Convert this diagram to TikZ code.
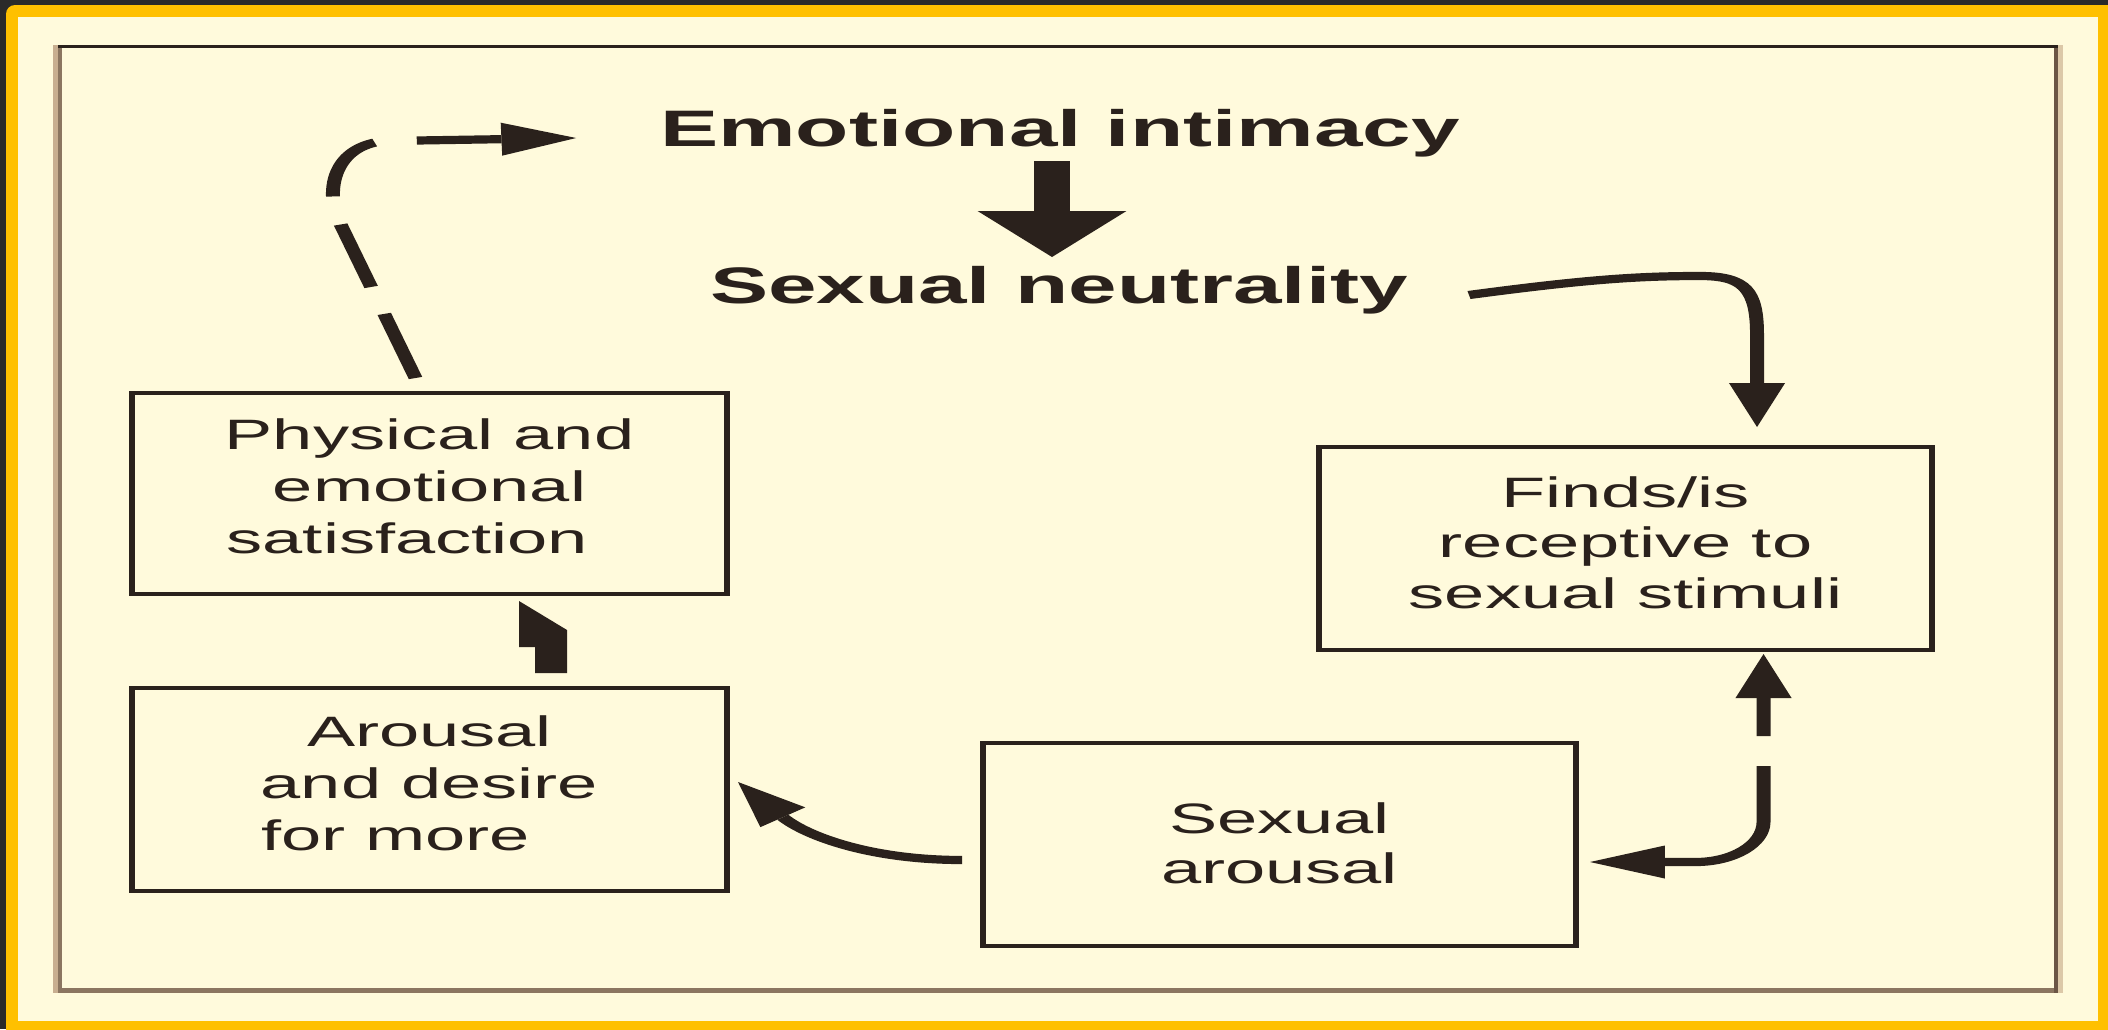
\documentclass[tikz,border=0pt]{standalone}
\usepackage{fontspec}
\setmainfont{Liberation Sans}
\usetikzlibrary{arrows.meta,calc}
\definecolor{ink}{HTML}{2A211C}
\definecolor{cream}{HTML}{FFFADC}
\definecolor{goldc}{HTML}{FFC000}
\definecolor{darkbg}{HTML}{2A2A2A}
\definecolor{frameLa}{HTML}{C8AE90}
\definecolor{frameLb}{HTML}{8B7560}
\definecolor{frameRa}{HTML}{6B5545}
\definecolor{frameRb}{HTML}{DCC8A8}
\definecolor{frameB}{HTML}{8B7560}
\tikzset{
  ttl/.style={font=\bfseries\fontsize{51.3}{60}\selectfont, text=ink, inner sep=0pt, outer sep=0pt, anchor=base},
  bx/.style={draw=ink, line width=3.4pt, inner sep=0pt, outer sep=0pt, anchor=base, text=ink,
             font=\fontsize{42.5}{52}\selectfont},
  conn/.style={draw=ink, line width=8.2pt},
}
\begin{document}
\begin{tikzpicture}[x=1pt,y=-1pt]
\useasboundingbox (0,0) rectangle (2108,1029);
% page background and border
\fill[darkbg] (0,0) rectangle (2108,1029);
\fill[goldc, rounded corners=9pt] (6,5) rectangle (2140,1060);
\fill[cream] (18,17) rectangle (2098,1021);
% inner frame
\draw[frameB, line width=5pt] (53,990.5) -- (2063,990.5);
\draw[frameLa, line width=5pt] (55.5,45) -- (55.5,993);
\draw[frameLb, line width=4pt] (60,45) -- (60,993);
\draw[frameRa, line width=4pt] (2056,45) -- (2056,993);
\draw[frameRb, line width=5pt] (2060.5,45) -- (2060.5,993);
\draw[ink, line width=3.5pt] (58,46.5) -- (2058,46.5);

\begin{scope}[transform canvas={xscale=1.7}, x=0.588235pt, y=-1pt,
  >={Triangle[width=33pt,length=44pt,line width=0pt]}]
  % titles
  \node[ttl] (emo) at (1060,146) {Emotional intimacy};
  \node[ttl] (neu) at (1059,303) {Sexual neutrality};
  % boxes
  \node[bx, minimum width=350pt, text height=56.3pt, text depth=144.7pt] (phys) at (429.5,449.3)
    {\begin{tabular}[t]{@{}c@{}}Physical and\\ emotional\\ satisfaction\hspace*{26pt}\end{tabular}};
  \node[bx, minimum width=350pt, text height=58pt, text depth=145pt] (arou) at (429.5,746)
    {\begin{tabular}[t]{@{}c@{}}Arousal\\ and desire\\ for more\hspace*{40pt}\end{tabular}};
  \node[bx, minimum width=348.8pt, text height=90.3pt, text depth=112.7pt,
        font=\fontsize{42.5}{50}\selectfont] (sexa) at (1279.5,833.3)
    {\begin{tabular}[t]{@{}c@{}}Sexual\\ arousal\end{tabular}};
  \node[bx, minimum width=360.6pt, text height=60.3pt, text depth=142.7pt,
        font=\fontsize{42.5}{50.5}\selectfont] (finds) at (1625.5,507.3)
    {\begin{tabular}[t]{@{}c@{}}Finds/is\\ receptive to\\ sexual stimuli\end{tabular}};

  % thick arrow: emotional intimacy -> sexual neutrality
  \draw[ink, line width=21.2pt, -{Triangle[width=87.6pt,length=46pt,line width=0pt]}]
    ($(emo.base)+(-8,15)$) -- ($(neu.base)+(-7,-46)$);
  % sexual neutrality -> finds
  \draw[conn, ->] ($(neu.base east)+(61,-8)$) .. controls +(120,-16) and +(-60,0) .. (1700,276)
    .. controls +(45,0) and +(0,-45) .. (1757,335) -- ($(finds.north)+(131.5,-20)$);
  % finds <-> sexual arousal
  \draw[conn, <->, rounded corners=40pt, dash pattern=on 38pt off 30pt on 3000pt]
    ($(finds.south)+(138,4)$) |- ($(sexa.east)+(14,17.5)$);
  % sexual arousal -> arousal and desire
  \draw[conn, ->] ($(sexa.west)+(-21,15.5)$) .. controls +(-90,0) and +(70,55) .. ($(arou.east)+(11,-7.5)$);
  % arousal and desire -> physical and emotional satisfaction
  \fill[ink] ($(arou.north)+(89.5,-87)$) -- ++(0,46) -- ++(16,0) -- ++(0,26) -- ++(32,0) -- ++(0,-43) -- cycle;
  % physical satisfaction -> emotional intimacy (dashed)
  \draw[conn, ->, dash pattern=on 66.7pt off 28pt on 65pt off 28.5pt on 63pt off 25pt on 3000pt]
    ($(phys.north)+(-14,-15)$) -- (336,215) .. controls (326,180) and (340,145) .. (385,141)
    -- ($(emo.base west)+(-84,-8)$);
\end{scope}
\end{tikzpicture}
\end{document}
